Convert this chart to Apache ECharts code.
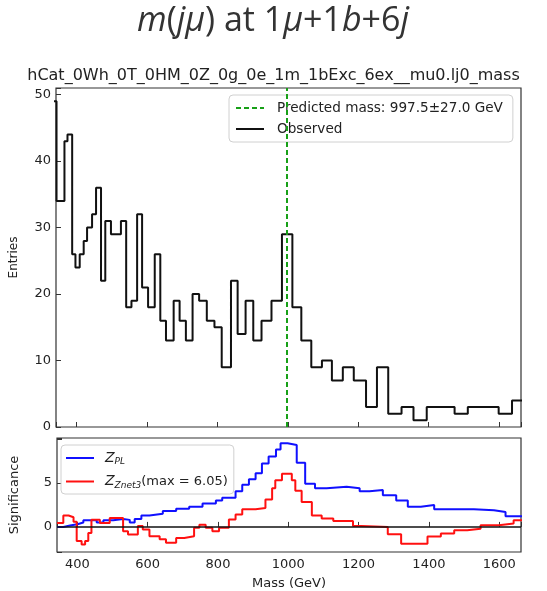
<!DOCTYPE html>
<html>
<head>
<meta charset="utf-8">
<script src="https://cdn.jsdelivr.net/npm/echarts@6.0.0/dist/echarts.min.js"></script>
<style>
html,body{margin:0;padding:0;background:#fff;}
#chart{width:547px;height:591px;}
</style>
</head>
<body>
<div id="chart"></div>
<script>
// ---- Data ----
const titleParts = ['m', '(', 'jμ', ') at 1', 'μ', '+1', 'b', '+6', 'j'];
const subtitle = 'hCat_0Wh_0T_0HM_0Z_0g_0e_1m_1bExc_6ex__mu0.lj0_mass';
const predMass = 997.5;
const predErr = 27.0;
const predName = 'Predicted mass: 997.5±27.0 GeV';
const obsName = 'Observed';
// histogram bin edges (GeV) and counts
const massEdges = [330, 343.5, 366, 374.6, 387.9, 397.2, 409.3, 420.6, 430.2, 444.4,
  455.7, 469.8, 481.9, 498, 526.3, 541.2, 556.2, 572.3, 586.4, 603.4,
  622.3, 638.1, 654.2, 676, 692.9, 710.7, 729.7, 748.3, 770.1, 791.8,
  812.4, 838.7, 857.6, 880.2, 902, 925.4, 953.7, 983.4, 1013, 1038.4,
  1066.7, 1096.9, 1125.2, 1156.2, 1187.3, 1222.1, 1253.1, 1285.1, 1322.9, 1356.8,
  1394.4, 1473.5, 1511, 1598.6, 1636.5, 1670];
const entries = [49, 34, 43, 44, 26, 24, 26, 28, 30, 32,
  36, 22, 31, 29, 31, 18, 19, 32, 21, 18,
  26, 16, 13, 19, 16, 13, 20, 19, 16, 15,
  9, 22, 14, 19, 13, 16, 19, 29, 18, 13,
  9, 10, 7, 9, 7, 3, 9, 2, 3, 1,
  3, 2, 3, 2, 4];
// significance curves: step start positions (GeV) and values
const zplEdges = [342, 360, 379, 400, 417, 455, 474, 502, 530, 549, 563, 582, 605, 643, 681, 718, 756, 794, 812, 850, 869, 888, 907, 925, 944, 965, 978, 998, 1024, 1048, 1076, 1109, 1166, 1203, 1231, 1269, 1307, 1340, 1377, 1415, 1528, 1585, 1618, 1670];
const zplValues = [0.0, 0.15, 0.3, 0.5, 0.75, 0.5, 0.75, 0.9, 0.8, 0.5, 0.9, 1.3, 1.5, 1.8, 2.05, 2.3, 2.65, 3.0, 3.3, 4.05, 4.8, 5.4, 6.1, 7.2, 8.0, 8.8, 9.5, 9.3, 7.3, 4.9, 4.4, 4.55, 4.4, 4.05, 4.2, 3.6, 3.0, 2.3, 2.5, 2.0, 1.9, 1.7, 1.2];
const znetEdges = [342, 360, 375, 389, 398, 412, 422, 431, 440, 464, 492, 530, 544, 572, 586, 605, 634, 652, 681, 704, 732, 747, 765, 784, 803, 831, 850, 869, 907, 935, 954, 963, 982, 1010, 1020, 1038, 1067, 1095, 1128, 1184, 1208, 1283, 1321, 1396, 1434, 1472, 1509, 1547, 1599, 1641, 1670];
const znetValues = [0.45, 1.3, 1.1, 0.6, -1.6, -2.0, -1.6, -0.7, 0.8, 0.45, 1.0, -0.5, -0.85, 0.1, -0.3, -1.06, -1.4, -1.8, -1.25, -1.06, -0.1, 0.25, -0.1, -0.5, -0.1, 0.83, 1.4, 2.0, 2.15, 3.1, 4.4, 5.3, 6.05, 5.3, 4.1, 2.84, 1.3, 0.95, 0.68, 0.1, 0.0, -0.83, -1.9, -1.1, -0.76, -0.38, -0.2, 0.19, 0.38, 0.76];
const znetMax = 6.05;
const xTickLabels = [400, 600, 800, 1000, 1200, 1400, 1600];
const sigTickLabels = [0, 5];

function stepData(edges, vals) {
  const d = vals.map((v, i) => [edges[i], v]);
  d.push([edges[edges.length - 1], vals[vals.length - 1]]);
  return d;
}

const txt = '#222';
const fontFam = 'DejaVu Sans';
const titleRich = {
  i: {fontStyle: 'italic', fontWeight: 'normal', fontSize: 34, fontFamily: 'Open Sans', color: '#333'},
  n: {fontWeight: 'normal', fontSize: 34, fontFamily: 'Open Sans', color: '#333'}
};
const titleText = titleParts.map((p, k) => ([0, 2, 4, 6, 8].includes(k) ? '{i|' + p + '}' : '{n|' + p + '}')).join('');

const chart = echarts.init(document.getElementById('chart'), null, {renderer: 'canvas'});
const option = {
  backgroundColor: '#fff',
  animation: false,
  title: [
    {text: titleText, left: 137, top: 4, padding: 0, textStyle: {fontWeight: 'normal', rich: titleRich}},
    {text: subtitle, left: 'center', top: 63, textStyle: {fontSize: 16, fontWeight: 'normal', fontFamily: fontFam, color: txt}}
  ],
  grid: [
    {left: 54, right: 26, top: 88, height: 339, containLabel: false, show: true, borderColor: '#333', borderWidth: 1.2, backgroundColor: '#fff'},
    {left: 54, right: 26, top: 438, height: 115, containLabel: false, show: true, borderColor: '#333', borderWidth: 1.2, backgroundColor: '#fff'}
  ],
  xAxis: [
    {type: 'value', gridIndex: 0, min: 342, max: 1662, splitNumber: 7,
      axisLine: {show: false}, splitLine: {show: false},
      axisTick: {inside: true, length: 5, lineStyle: {color: '#333'}},
      axisLabel: {show: false}},
    {type: 'value', gridIndex: 1, min: 342, max: 1662, splitNumber: 7,
      name: 'Mass (GeV)', nameLocation: 'middle', nameGap: 25,
      nameTextStyle: {fontSize: 13, fontFamily: fontFam, color: txt},
      axisLine: {show: false}, splitLine: {show: false},
      axisTick: {inside: true, length: 5, lineStyle: {color: '#333'}},
      axisLabel: {fontSize: 13, fontFamily: fontFam, color: txt, margin: 6,
        formatter: v => (xTickLabels.includes(Math.round(v)) && Math.abs(v - Math.round(v)) < 1e-6 ? String(Math.round(v)) : '')}}
  ],
  yAxis: [
    {type: 'value', gridIndex: 0, min: 0, max: 51, interval: 10,
      name: 'Entries', nameLocation: 'middle', nameGap: 36, nameRotate: 90,
      nameTextStyle: {fontSize: 12, fontFamily: fontFam, color: txt},
      axisLine: {show: false}, splitLine: {show: false},
      axisTick: {inside: true, length: 5, lineStyle: {color: '#333'}},
      axisLabel: {fontSize: 13, fontFamily: fontFam, color: txt, margin: 5,
        formatter: v => (v % 10 === 0 ? String(v) : '')}},
    {type: 'value', gridIndex: 1, min: -2.85, max: 10.1, splitNumber: 3,
      name: 'Significance', nameLocation: 'middle', nameGap: 36, nameRotate: 90,
      nameTextStyle: {fontSize: 13, fontFamily: fontFam, color: txt},
      axisLine: {show: false}, splitLine: {show: false},
      axisTick: {inside: true, length: 5, lineStyle: {color: '#333'}},
      axisLabel: {fontSize: 13, fontFamily: fontFam, color: txt, margin: 5,
        formatter: v => (sigTickLabels.includes(v) ? String(v) : '')}}
  ],
  legend: [
    {data: [predName, obsName], orient: 'vertical', left: 229, top: 95,
      padding: [6, 10, 6, 6], itemGap: 7, itemWidth: 28, itemHeight: 14,
      itemStyle: {opacity: 0},
      backgroundColor: 'rgba(255,255,255,0.9)', borderColor: '#d0d0d0', borderWidth: 1, borderRadius: 4,
      textStyle: {fontSize: 13.6, fontFamily: fontFam, color: txt, padding: [0, 0, 0, 8]}},
    {data: ['ZPL', 'ZZnet3'], orient: 'vertical', left: 61, top: 445,
      padding: [6, 6, 4, 4], itemGap: 8, itemWidth: 28, itemHeight: 14,
      itemStyle: {opacity: 0},
      backgroundColor: 'rgba(255,255,255,0.9)', borderColor: '#d0d0d0', borderWidth: 1, borderRadius: 4,
      formatter: name => (name === 'ZPL' ? '{z|Z}{s|PL}' : '{z|Z}{s|Znet3}{n|(max = ' + znetMax.toFixed(2) + ')}'),
      textStyle: {fontSize: 13, fontFamily: fontFam, color: txt, padding: [0, 0, 0, 6],
        rich: {
          z: {fontSize: 14, fontStyle: 'italic', fontFamily: fontFam, color: txt},
          s: {fontSize: 9, fontStyle: 'italic', fontFamily: fontFam, color: txt, padding: [8, 0, 0, 0]},
          n: {fontSize: 13, fontFamily: fontFam, color: txt}
        }}}
  ],
  series: [
    {name: obsName, type: 'line', xAxisIndex: 0, yAxisIndex: 0, step: 'end', symbol: 'none',
      clip: true, data: stepData(massEdges, entries),
      lineStyle: {color: '#111', width: 2}, itemStyle: {color: '#111'}, z: 3},
    {name: predName, type: 'line', xAxisIndex: 0, yAxisIndex: 0, symbol: 'none', data: [],
      lineStyle: {color: '#17a017', width: 2, type: [5, 3]}, itemStyle: {color: '#17a017'},
      markLine: {silent: true, symbol: ['none', 'none'], label: {show: false},
        lineStyle: {color: '#17a017', width: 2, type: [5, 3]},
        data: [{xAxis: predMass}]}, z: 4},
    {name: 'ZPL', type: 'line', xAxisIndex: 1, yAxisIndex: 1, step: 'end', symbol: 'none', clip: true,
      data: stepData(zplEdges, zplValues),
      lineStyle: {color: '#1010ff', width: 2}, itemStyle: {color: '#1010ff'}, z: 3},
    {name: 'ZZnet3', type: 'line', xAxisIndex: 1, yAxisIndex: 1, step: 'end', symbol: 'none', clip: true,
      data: stepData(znetEdges, znetValues),
      lineStyle: {color: '#ff1010', width: 2}, itemStyle: {color: '#ff1010'},
      markLine: {silent: true, symbol: ['none', 'none'], label: {show: false},
        lineStyle: {color: '#111', width: 1.5, type: 'solid'},
        data: [{yAxis: 0}]}, z: 3}
  ]
};
chart.setOption(option);
</script>
</body>
</html>
